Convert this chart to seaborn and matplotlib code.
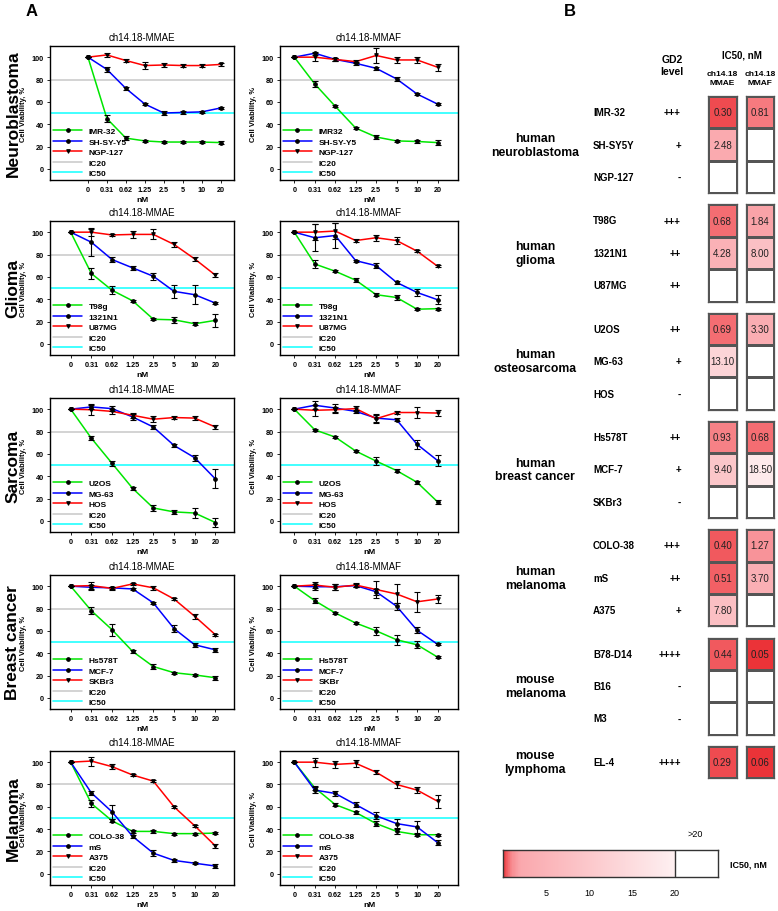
import numpy as np
import pandas as pd
import matplotlib
matplotlib.use('Agg')
import matplotlib.pyplot as plt
import seaborn as sns
from matplotlib.colors import LinearSegmentedColormap

# ---------------- data: panel A (cell viability, %) ----------------
conc_labels = ['0', '0.31', '0.62', '1.25', '2.5', '5', '10', '20']
tumour_names = ['Neuroblastoma', 'Glioma', 'Sarcoma', 'Breast cancer', 'Melanoma']
drug_names = ['ch14.18-MMAE', 'ch14.18-MMAF']

nb_mmae_names = ['IMR-32', 'SH-SY-Y5', 'NGP-127']
nb_mmae_mean = [[100, 45, 27.5, 25, 24, 24, 24, 23.5],
                [100, 89, 72, 58, 50, 50.5, 51, 54.5],
                [100, 102, 97, 92.5, 93, 92.5, 92.5, 93.5]]
nb_mmae_err = [[0, 3, 1.5, 1, 1, 1, 1, 1.5],
               [0, 2, 1.5, 1, 1.5, 1, 1, 1],
               [0, 2, 1, 3.5, 2, 1, 1, 1]]

nb_mmaf_names = ['IMR32', 'SH-SY-Y5', 'NGP-127']
nb_mmaf_mean = [[100, 76, 56, 36.5, 28.5, 25, 24.5, 23.5],
                [100, 103.5, 98, 94.5, 90, 80.5, 67, 58],
                [100, 100, 98, 96, 101.5, 97.5, 97.5, 91]]
nb_mmaf_err = [[0, 2.5, 1, 1, 2, 1, 1, 2],
               [0, 1.5, 1, 1.5, 1.5, 1.5, 1, 1],
               [0, 3.5, 1, 1.5, 7, 2.5, 3, 3]]

gl_mmae_names = ['T98g', '1321N1', 'U87MG']
gl_mmae_mean = [[100, 63, 48, 38.5, 22, 21.5, 18, 21],
                [100, 91, 75.5, 68, 60.5, 47, 44, 36.5],
                [100, 100, 97.5, 98, 98, 89, 76, 61.5]]
gl_mmae_err = [[0, 4.5, 3.5, 1, 1, 2.5, 1.5, 6],
               [0, 12, 2, 2, 3, 6, 8.5, 1],
               [0, 3.5, 1, 3, 4.5, 2, 1.5, 2]]

gl_mmaf_names = ['T98g', '1321N1', 'U87MG']
gl_mmaf_mean = [[100, 71.5, 65, 57, 44, 41.5, 31, 31.5],
                [100, 95, 97, 74.5, 70, 55, 46, 39.5],
                [100, 100, 101, 92.5, 95, 92.5, 83, 69.5]]
gl_mmaf_err = [[0, 3.5, 1, 2, 1.5, 2, 1, 1],
               [0, 12, 11.5, 1, 2.5, 1, 3, 4],
               [0, 7, 7, 1, 2.5, 3, 1, 1]]

sa_mmae_names = ['U2OS', 'MG-63', 'HOS']
sa_mmae_mean = [[100, 74, 51.5, 29, 11.5, 8, 7, -1.5],
                [100, 102, 100.5, 93, 84, 67.5, 56.5, 37.5],
                [100, 99.5, 98, 94.5, 91, 92.5, 92, 84]]
sa_mmae_err = [[0, 2, 2, 1, 2.5, 1.5, 4.5, 4],
               [0, 2, 2.5, 3, 2, 1, 2.5, 8.5],
               [0, 5, 2.5, 2.5, 2.5, 1, 1.5, 2]]

sa_mmaf_names = ['U2OS', 'MG-63', 'HOS']
sa_mmaf_mean = [[100, 81.5, 75, 62.5, 53.5, 45, 34.5, 17],
                [100, 103.5, 101, 98, 92, 90.5, 68.5, 54],
                [100, 99, 99.5, 100.5, 91.5, 97, 97, 96.5]]
sa_mmaf_err = [[0, 1, 1, 1, 3.5, 1, 1.5, 1.5],
               [0, 3.5, 3.5, 1.5, 3.5, 1.5, 4, 5],
               [0, 5, 2.5, 2, 3.5, 1, 4.5, 3]]

br_mmae_names = ['Hs578T', 'MCF-7', 'SKBr3']
br_mmae_mean = [[100, 78, 61, 41.5, 28, 22.5, 20.5, 18],
                [100, 99, 98.5, 97.5, 85, 62, 47.5, 43],
                [100, 100.5, 98, 102, 98.5, 88.5, 73, 56.5]]
br_mmae_err = [[0, 3, 5.5, 1, 2.5, 1, 1, 2],
               [0, 2, 1, 1, 1, 3, 2, 2],
               [0, 3, 1.5, 1, 2, 1, 2, 1]]

br_mmaf_names = ['Hs578T', 'MCF-7', 'SKBr']
br_mmaf_mean = [[100, 87, 76, 67, 60, 52, 47.5, 36.5],
                [100, 99.5, 99.5, 100.5, 95, 82, 60.5, 48],
                [100, 101, 99, 101, 97, 93, 86, 88.5]]
br_mmaf_err = [[0, 2.5, 1, 1, 3.5, 4.5, 3, 1],
               [0, 2.5, 2.5, 1, 2.5, 3, 2.5, 1],
               [0, 2.5, 2.5, 1.5, 7.5, 8.5, 9, 3.5]]

me_mmae_names = ['COLO-38', 'mS', 'A375']
me_mmae_mean = [[100, 63, 47.5, 38, 38, 36, 36, 36.5],
                [100, 72.5, 55.5, 33.5, 18.5, 12, 9.5, 7],
                [100, 101, 96, 88.5, 83, 60, 43, 25]]
me_mmae_err = [[0, 3, 1.5, 1, 1, 1, 1, 1],
               [0, 2, 6, 1, 2.5, 1.5, 1, 2],
               [0, 4, 2, 1, 1, 1, 1, 1.5]]

me_mmaf_names = ['COLO-38', 'mS', 'A375']
me_mmaf_mean = [[100, 77, 62, 55, 45, 38, 35, 35],
                [100, 75, 72, 62, 52, 45, 42, 28],
                [100, 100, 98, 99, 91, 80, 75, 65]]
me_mmaf_err = [[0, 2, 1, 1, 2, 2, 1, 1],
               [0, 3, 2, 2, 3, 4, 5, 2],
               [0, 4, 3, 3, 2, 3, 3, 6]]

# ---------------- data: panel B (IC50, nM; None = >20) ----------------
group_names = ['human\nneuroblastoma', 'human\nglioma', 'human\nosteosarcoma',
               'human\nbreast cancer', 'human\nmelanoma', 'mouse\nmelanoma',
               'mouse\nlymphoma']
cell_lines = [['IMR-32', 'SH-SY5Y', 'NGP-127'], ['T98G', '1321N1', 'U87MG'],
              ['U2OS', 'MG-63', 'HOS'], ['Hs578T', 'MCF-7', 'SKBr3'],
              ['COLO-38', 'mS', 'A375'], ['B78-D14', 'B16', 'M3'], ['EL-4']]
gd2_levels = [['+++', '+', '-'], ['+++', '++', '++'], ['++', '+', '-'],
              ['++', '+', '-'], ['+++', '++', '+'], ['++++', '-', '-'], ['++++']]
ic50_mmae = [[0.30, 2.48, None], [0.68, 4.28, None], [0.69, 13.10, None],
             [0.93, 9.40, None], [0.40, 0.51, 7.80], [0.44, None, None], [0.29]]
ic50_mmaf = [[0.81, None, None], [1.84, 8.00, None], [3.30, None, None],
             [0.68, 18.50, None], [1.27, 3.70, None], [0.05, None, None], [0.06]]
cbar_ticks = [5, 10, 15, 20]

line_colors = ['#00e600', '#0000ff', '#ff0000']
line_markers = ['o', 'o', 'v']

sns.set_style('white')
plt.rcParams['font.family'] = ['Liberation Sans', 'DejaVu Sans']
plt.rcParams['font.weight'] = 'bold'
plt.rcParams['axes.labelweight'] = 'bold'
plt.rcParams['text.color'] = 'black'
plt.rcParams['axes.labelcolor'] = 'black'
plt.rcParams['xtick.color'] = 'black'
plt.rcParams['ytick.color'] = 'black'

W, H = 778, 912
fig = plt.figure(figsize=(W / 100, H / 100), dpi=100)


def box(x0, y0, x1, y1):
    # pixel box (from top-left) -> figure fraction rect
    return [x0 / W, 1 - y1 / H, (x1 - x0) / W, (y1 - y0) / H]


def draw_panel(ax, names, means, errs, title, xlim):
    x = np.arange(len(conc_labels))
    for name, m, e, c, mk in zip(names, means, errs, line_colors, line_markers):
        df = pd.DataFrame({'x': x, 'y': m})
        sns.lineplot(data=df, x='x', y='y', ax=ax, color=c, lw=1.1, marker=mk,
                     markersize=2.6, markerfacecolor='k', markeredgecolor='k',
                     label=name, zorder=3)
        ax.errorbar(x, m, yerr=e, fmt='none', ecolor='k', elinewidth=0.8,
                    capsize=2, capthick=0.8, zorder=4)
    ax.axhline(80, color='#c8c8c8', lw=1.1, label='IC20', zorder=1)
    ax.axhline(50, color='#33ffff', lw=1.3, label='IC50', zorder=1)
    ax.set_xlim(*xlim)
    ax.set_ylim(-10, 110)
    ax.set_xticks(x)
    ax.set_xticklabels(conc_labels)
    ax.set_yticks([0, 20, 40, 60, 80, 100])
    ax.tick_params(labelsize=5.2, length=2, width=0.6, pad=2.5,
                   bottom=True, left=True)
    ax.set_xlabel('nM', fontsize=6, labelpad=2)
    ax.set_ylabel('Cell Viability, %', fontsize=5.4, labelpad=3)
    ax.set_title(title, fontsize=7, pad=4)
    for sp in ax.spines.values():
        sp.set_visible(True)
        sp.set_color('k')
        sp.set_linewidth(1.0)
    ax.legend(loc='lower left', frameon=False, fontsize=6, handlelength=3.5,
              labelspacing=0.32, borderaxespad=0.1, borderpad=0.25,
              handletextpad=0.8)


panels = [
    (nb_mmae_names, nb_mmae_mean, nb_mmae_err, nb_mmaf_names, nb_mmaf_mean, nb_mmaf_err),
    (gl_mmae_names, gl_mmae_mean, gl_mmae_err, gl_mmaf_names, gl_mmaf_mean, gl_mmaf_err),
    (sa_mmae_names, sa_mmae_mean, sa_mmae_err, sa_mmaf_names, sa_mmaf_mean, sa_mmaf_err),
    (br_mmae_names, br_mmae_mean, br_mmae_err, br_mmaf_names, br_mmaf_mean, br_mmaf_err),
    (me_mmae_names, me_mmae_mean, me_mmae_err, me_mmaf_names, me_mmaf_mean, me_mmaf_err),
]
row_tops = [47, 222, 399, 576, 752]
row_h = 134
col_x = [(50, 234), (280, 458)]
col_xlim = [(-1.0, 7.9), (-0.7, 8.0)]

for r, (n1, m1, e1, n2, m2, e2) in enumerate(panels):
    t = row_tops[r]
    ax1 = fig.add_axes(box(col_x[0][0], t, col_x[0][1], t + row_h))
    lim1 = (-2.0, 7.7) if r == 0 else col_xlim[0]
    draw_panel(ax1, n1, m1, e1, drug_names[0], lim1)
    ax2 = fig.add_axes(box(col_x[1][0], t, col_x[1][1], t + row_h))
    draw_panel(ax2, n2, m2, e2, drug_names[1], col_xlim[1])
    fig.text(13 / W, 1 - (t + row_h / 2) / H, tumour_names[r], rotation=90,
             ha='center', va='center', fontsize=12.5)

fig.text(32 / W, 1 - 12 / H, 'A', ha='center', va='center', fontsize=12)
fig.text(570 / W, 1 - 12 / H, 'B', ha='center', va='center', fontsize=12)

# ---------------- panel B heatmap ----------------
cmap = LinearSegmentedColormap.from_list('ic50', [
    (0.0, (0.92, 0.20, 0.22)),
    (0.015, (0.94, 0.32, 0.34)),
    (0.035, (0.96, 0.45, 0.47)),
    (0.05, (0.97, 0.55, 0.57)),
    (0.10, (0.98, 0.66, 0.68)),
    (1.0, (0.995, 0.94, 0.945)),
])
cmap.set_over('white')

fig.text(672 / W, 1 - 66 / H, 'GD2\nlevel', ha='center', va='center',
         fontsize=7.5, linespacing=1.3)
fig.text(742 / W, 1 - 55 / H, 'IC50, nM', ha='center', va='center', fontsize=7)
fig.text(722 / W, 1 - 79 / H, 'ch14.18\nMMAE', ha='center', va='center',
         fontsize=6, linespacing=1.3)
fig.text(760 / W, 1 - 79 / H, 'ch14.18\nMMAF', ha='center', va='center',
         fontsize=6, linespacing=1.3)

cell_h = 32.4
group_pitch = 108.3
for g, grp in enumerate(group_names):
    top = 97 + g * group_pitch
    n = len(cell_lines[g])
    bottom = top + n * cell_h
    for cx, vals in zip([(708, 737), (746, 774)], [ic50_mmae[g], ic50_mmaf[g]]):
        ax = fig.add_axes(box(cx[0], top, cx[1], bottom))
        data = np.array([[v if v is not None else 99.0] for v in vals])
        annot = np.array([['%.2f' % v if v is not None else ''] for v in vals])
        sns.heatmap(data, ax=ax, cmap=cmap, vmin=0, vmax=20, cbar=False,
                    annot=annot, fmt='', linewidths=0.8, linecolor='#555555',
                    annot_kws={'fontsize': 7, 'fontweight': 'normal', 'color': '#222222'},
                    xticklabels=False, yticklabels=False)
        for sp in ax.spines.values():
            sp.set_visible(True)
            sp.set_color('#555555')
            sp.set_linewidth(0.9)
    for i, (cl, lvl) in enumerate(zip(cell_lines[g], gd2_levels[g])):
        yc = 1 - (top + (i + 0.5) * cell_h) / H
        fig.text(593 / W, yc, cl, ha='left', va='center', fontsize=7)
        fig.text(681 / W, yc, lvl, ha='right', va='center', fontsize=7)
    fig.text(535 / W, 1 - (top + bottom) / 2 / H, grp, ha='center', va='center',
             fontsize=8.8, linespacing=1.2)

# ---------------- colour scale ----------------
cax = fig.add_axes(box(503, 851, 718, 878))
edges = np.linspace(0, 25, 501)
mids = (edges[:-1] + edges[1:]) / 2
cax.pcolormesh(edges, [0, 1], mids[None, :], cmap=cmap, vmin=0, vmax=20)
cax.axvline(20, color='#333333', lw=1.0)
cax.set_xlim(0, 25)
cax.set_ylim(0, 1)
cax.set_yticks([])
cax.set_xticks(cbar_ticks)
cax.set_xticklabels([str(t) for t in cbar_ticks], fontweight='normal')
cax.tick_params(axis='x', top=True, bottom=False, labeltop=False,
                labelbottom=True, direction='in', length=3, width=0.7,
                labelsize=6.5, pad=8)
for sp in cax.spines.values():
    sp.set_visible(True)
    sp.set_color('#333333')
    sp.set_linewidth(1.0)
fig.text(695 / W, 1 - 835 / H, '>20', ha='center', va='center', fontsize=6.5,
         fontweight='normal')
fig.text(730 / W, 1 - 865 / H, 'IC50, nM', ha='left', va='center', fontsize=6.5)

fig.savefig('out.png', dpi=100)
